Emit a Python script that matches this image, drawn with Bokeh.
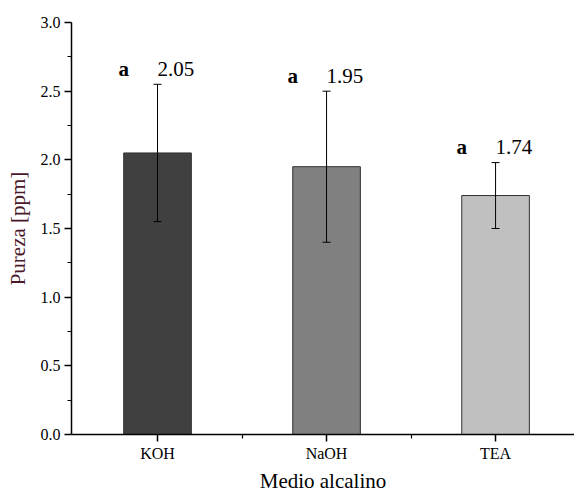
from bokeh.plotting import figure
from bokeh.models import (FixedTicker, NumeralTickFormatter, Range1d, ColumnDataSource,
                          Whisker, TeeHead)
from bokeh.core.properties import value
from bokeh.embed import file_html
from bokeh.resources import INLINE

categories = ["KOH", "NaOH", "TEA"]
means = [2.05, 1.95, 1.74]
errors = [0.50, 0.55, 0.24]
letters = ["a", "a", "a"]
bar_colors = ["#404040", "#808080", "#c0c0c0"]
y_ticks = [0.0, 0.5, 1.0, 1.5, 2.0, 2.5, 3.0]
y_minor = [0.25, 0.75, 1.25, 1.75, 2.25, 2.75]

xs = [i + 1 for i in range(len(categories))]
upper = [m + e for m, e in zip(means, errors)]
lower = [m - e for m, e in zip(means, errors)]
label_y = [u + 0.11 for u in upper]
value_txt = [f"{m:.2f}" for m in means]

src = ColumnDataSource(dict(x=xs, top=means, upper=upper, lower=lower, color=bar_colors,
                            label_y=label_y, letters=letters, vals=value_txt,
                            xa=[x - 0.2 for x in xs], xv=[x + 0.0 for x in xs]))

FONT = "Liberation Serif"
p = figure(width=574, height=496, output_backend="svg", toolbar_location=None,
           x_range=Range1d(0.491, 3.467), y_range=Range1d(0, 3.0),
           min_border_left=71, min_border_right=0, min_border_top=22, min_border_bottom=62)
p.outline_line_color = None
p.xgrid.visible = False
p.ygrid.visible = False

p.vbar(x="x", top="top", width=0.4, bottom=0, fill_color="color",
       line_color="#303030", line_width=1, source=src)

w = Whisker(base="x", upper="upper", lower="lower", source=src,
            line_color="#000000", line_width=1, level="overlay",
            upper_head=TeeHead(size=8, line_color="#000000", line_width=1),
            lower_head=TeeHead(size=8, line_color="#000000", line_width=1))
p.add_layout(w)

p.text(x="xa", y="label_y", text="letters", source=src, text_font=value(FONT),
       text_font_size="21px", text_font_style="bold", text_align="center",
       text_baseline="alphabetic", text_color="#000000")
p.text(x="xv", y="label_y", text="vals", source=src, text_font=value(FONT),
       text_font_size="21px", text_align="left", text_baseline="alphabetic",
       text_color="#000000")

# x axis
p.xaxis.ticker = FixedTicker(ticks=xs, minor_ticks=[1.5, 2.5])
p.xaxis.major_label_overrides = {x: c for x, c in zip(xs, categories)}
p.xaxis.axis_label = "Medio alcalino"
# y axis
p.yaxis.ticker = FixedTicker(ticks=y_ticks, minor_ticks=y_minor)
p.yaxis.formatter = NumeralTickFormatter(format="0.0")
p.yaxis.axis_label = "Pureza [ppm]"

for ax in (p.xaxis[0], p.yaxis[0]):
    ax.axis_line_color = "#000000"
    ax.axis_line_width = 1.5
    ax.major_tick_line_color = "#000000"
    ax.minor_tick_line_color = "#000000"
    ax.major_tick_line_width = 1.5
    ax.minor_tick_line_width = 1.2
    ax.major_tick_in = 0
    ax.major_tick_out = 7
    ax.minor_tick_in = 0
    ax.minor_tick_out = 4
    ax.major_label_text_font = FONT
    ax.major_label_text_font_size = "16px"
    ax.major_label_text_color = "#000000"
    ax.axis_label_text_font = FONT
    ax.axis_label_text_font_size = "21px"
    ax.axis_label_text_font_style = "normal"
    ax.major_label_standoff = 4

p.xaxis.major_label_standoff = 3
p.xaxis.axis_label_text_color = "#000000"
p.yaxis.axis_label_text_color = "#4a1a2c"
p.xaxis.axis_label_standoff = 4
p.yaxis.axis_label_standoff = 8

open("out.html", "w").write(file_html(p, INLINE))
